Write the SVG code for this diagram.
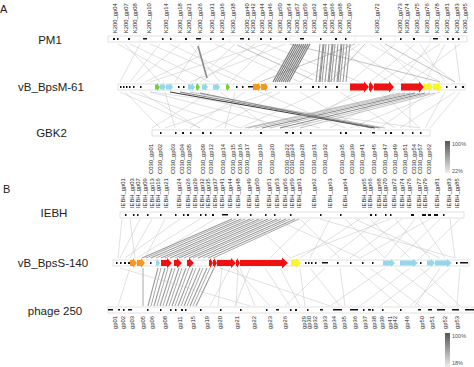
<svg xmlns="http://www.w3.org/2000/svg" width="474" height="367" viewBox="0 0 474 367">
<style>
text{font-family:"Liberation Sans",Arial,sans-serif;fill:#222}
.nm{font-size:11.5px;text-anchor:middle}
.pn{font-size:11px}
.gl{font-size:5.8px;fill:#444}
.pc{font-size:5.5px;fill:#555}
.trk{fill:#fff;stroke:#ccc;stroke-width:.6}
.mk{fill:#111}
.lt{stroke:#c2c2c2;stroke-width:.5;fill:none}
.md{stroke:#9a9a9a;stroke-width:.6;fill:none}
.dk{stroke:#6a6a6a;stroke-width:.8;fill:none}
.dk2{stroke:#3c3c3c;stroke-width:1.1;fill:none}
.bd{stroke:#808080;stroke-width:1.2;fill:none}
.bd2{stroke:#9c9c9c;stroke-width:1.1;fill:none}
.bb{stroke:#a8a8a8;stroke-width:1;fill:none}
.red{fill:#ee1111}
.org{fill:#f39a1e}
.yel{fill:#f6f62a}
.cyn{fill:#92d7ea}
.grn{fill:#6fd33a}
</style>
<defs>
<linearGradient id="lg" x1="0" y1="0" x2="0" y2="1">
<stop offset="0" stop-color="#555"/>
<stop offset="1" stop-color="#eee"/>
</linearGradient>
</defs>
<rect width="474" height="367" fill="#fff"/>

<g id="connectors">
<path class="lt" d="M125,44L160,82M130,44L210,82M140,44L120,82M150,44L240,82M160,44L130,82M170,44L250,82M180,44L135,82M190,44L220,82M200,44L175,82M215,44L300,82M225,44L145,82M235,44L195,82M245,44L330,82M255,44L200,82M265,44L360,82M270,44L230,82M285,44L190,82M310,44L250,82M330,44L390,82M345,44L405,82M360,44L300,82M370,44L440,82M380,44L420,82M395,44L350,82M405,44L455,82M415,44L370,82M430,44L400,82M445,44L425,82M455,44L460,82M460,44L410,82M440,44L380,82M420,44L445,82M118,44L185,82M265,44L150,82"/>
<path class="md" d="M237,45L313,80M365,44L330,82M385,44L455,82M355,44L260,82M290,44L440,82"/>
<path d="M198,46L207,78" stroke="#888" stroke-width="1.6"/>
<path class="bd" d="M294,44L273,82M296,44L275,82M298,44L277,82M300,44L279,82M302,44L281,82M304,44L283,82M306,44L285,82M308,44L287,82M310,44L289,82"/>
<path class="bd2" d="M320,44L316,82M323,44L319,82M326,44L322,82M329,44L325,82M332,44L328,82M335,44L331,82M338,44L334,82M341,44L337,82M344,44L340,82M347,44L343,82M350,44L346,82"/>
<path class="dk" d="M324,44L320,82M333,44L329,82M342,44L338,82"/>

<path class="lt" d="M125,92L160,128M140,92L200,128M150,92L290,128M165,92L175,128M180,92L320,128M210,92L152,128M220,92L270,128M245,92L190,128M260,92L345,128M280,92L215,128M300,92L360,128M320,92L240,128M340,92L395,128M355,92L300,128M380,92L420,128M395,92L330,128M410,92L410,128M430,92L380,128M445,92L425,128M455,92L400,128M460,92L430,128M235,92L225,128M120,92L200,128M130,92L240,128M272,92L165,128M365,92L280,128M440,92L350,128M150,92L420,128"/>
<path class="dk2" d="M170,92L375,128"/>
<path class="dk" d="M180,92L380,128M200,93L372,128M415,93L262,128M425,93L280,128"/>
<path class="md" d="M190,92L385,128M410,93L255,128M420,93L270,128M430,93L290,128M405,93L248,128M435,93L300,128M400,93L245,128"/>

<path class="lt" d="M122,219L118,258M130,219L135,258M140,219L120,258M152,219L130,258M165,219L145,258M180,219L125,258M200,219L137,258M215,219L150,258M310,219L270,258M330,219L310,258M345,219L385,258M360,219L300,258M370,219L410,258M380,219L330,258M395,219L430,258M402,219L350,258M420,219L445,258M430,219L360,258M440,219L400,258M450,219L455,258M460,219L420,258M300,219L340,258M275,219L360,258M250,219L290,258M390,219L290,258M320,219L455,258M415,219L385,258M355,219L440,258"/>
<path class="bd2" d="M232,219L142,258M241,219L151,258M250,219L161,258M259,219L170,258M268,219L179,258M277,219L189,258M286,219L198,258M295,219L208,258"/>
<path class="bb" d="M236,219L146,258M245,219L156,258M254,219L165,258M263,219L175,258M272,219L184,258M281,219L193,258M290,219L203,258M299,219L213,258"/>

<path d="M143,268L143,306" stroke="#aaa" stroke-width="1"/>
<path class="bd2" d="M158,268L148,306M165,268L154,306M172,268L160,306M179,268L166,306M186,268L172,306M193,268L178,306M200,268L184,306M207,268L190,306M214,268L196,306"/>
<path class="bb" d="M161,268L151,306M168,268L157,306M175,268L163,306M182,268L169,306M189,268L175,306M196,268L181,306M203,268L187,306M210,268L193,306"/>
<path class="lt" d="M130,268L118,306M230,268L210,306M240,268L255,306M250,268L235,306M265,268L290,306M280,268L300,306M300,268L305,306M310,268L340,306M325,268L285,306M340,268L345,306M355,268L400,306M370,268L420,306M385,268L330,306M395,268L445,306M410,268L360,306M420,268L460,306M430,268L380,306M440,268L415,306M450,268L410,306M460,268L457,306M120,268L250,306M235,268L270,306M220,268L330,306M222,268L218,306M238,268L236,306"/>
</g>

<g id="labels">
<text class="pn" x="0" y="13">A</text>
<text class="pn" x="3" y="193">B</text>
</g>

<g id="PM1">
<text class="nm" x="50" y="44">PM1</text>
<rect class="trk" x="108" y="36" width="359" height="6"/>
<path d="M140,36v6M175,36v6M230,36v6M258,36v6M290,36v6M355,36v6M395,36v6M430,36v6" stroke="#ddd" stroke-width=".5"/>
<path class="mk" d="M113,38h2v2h-2zM117,38h1.5v2h-1.5zM128,38h2v2h-2zM143,38h4v1.5h-4zM162,38h1.5v2h-1.5zM170,38h1.5v2h-1.5zM185,38h2v2h-2zM196,38h5v1.5h-5zM210,38h1.5v2h-1.5zM222,38h2v2h-2zM240,38h4v1.5h-4zM248,38h1.5v2h-1.5zM260,38h2v2h-2zM270,38h1.5v2h-1.5zM285,38h2v2h-2zM300,38h4v1.5h-4zM320,38h1.5v2h-1.5zM335,38h2v2h-2zM345,38h1.5v2h-1.5zM380,38h1.5v2h-1.5zM400,38h1.5v2h-1.5zM413,38h2v2h-2zM433,38h5v1.5h-5zM447,38h1.5v2h-1.5zM452,38h2v2h-2zM458,38h1.5v2h-1.5z"/>
<g class="gl">
<text transform="translate(117,33) rotate(-90)">K200_gp04</text>
<text transform="translate(128,33) rotate(-90)">K200_gp07</text>
<text transform="translate(137,33) rotate(-90)">K200_gp08</text>
<text transform="translate(151,33) rotate(-90)">K200_gp10</text>
<text transform="translate(168,33) rotate(-90)">K200_gp14</text>
<text transform="translate(182,33) rotate(-90)">K200_gp18</text>
<text transform="translate(191,33) rotate(-90)">K200_gp21</text>
<text transform="translate(202,33) rotate(-90)">K200_gp26</text>
<text transform="translate(214,33) rotate(-90)">K200_gp31</text>
<text transform="translate(224,33) rotate(-90)">K200_gp36</text>
<text transform="translate(235,33) rotate(-90)">K200_gp38</text>
<text transform="translate(249,33) rotate(-90)">K200_gp40</text>
<text transform="translate(255,33) rotate(-90)">K200_gp42</text>
<text transform="translate(264,33) rotate(-90)">K200_gp44</text>
<text transform="translate(272,33) rotate(-90)">K200_gp46</text>
<text transform="translate(282,33) rotate(-90)">K200_gp50</text>
<text transform="translate(291,33) rotate(-90)">K200_gp54</text>
<text transform="translate(299,33) rotate(-90)">K200_gp57</text>
<text transform="translate(307,33) rotate(-90)">K200_gp59</text>
<text transform="translate(316,33) rotate(-90)">K200_gp62</text>
<text transform="translate(327,33) rotate(-90)">K200_gp64</text>
<text transform="translate(334,33) rotate(-90)">K200_gp66</text>
<text transform="translate(342,33) rotate(-90)">K200_gp68</text>
<text transform="translate(351,33) rotate(-90)">K200_gp70</text>
<text transform="translate(379,33) rotate(-90)">K200_gp72</text>
<text transform="translate(402,33) rotate(-90)">K200_gp73</text>
<text transform="translate(409,33) rotate(-90)">K200_gp74</text>
<text transform="translate(419,33) rotate(-90)">K200_gp75</text>
<text transform="translate(429,33) rotate(-90)">K200_gp76</text>
<text transform="translate(439,33) rotate(-90)">K200_gp78</text>
<text transform="translate(449,33) rotate(-90)">K200_gp81</text>
<text transform="translate(459,33) rotate(-90)">K200_gp83</text>
<text transform="translate(467,33) rotate(-90)">K200_gp85</text>
</g>
</g>

<g id="vB_BpsM-61">
<text class="nm" x="51" y="91">vB_BpsM-61</text>
<rect class="trk" x="118" y="84" width="347" height="6"/>
<path class="mk" d="M120,86h1.5v2h-1.5zM123,86h1.5v2h-1.5zM126,86h1.5v2h-1.5zM129,86h1.5v2h-1.5zM133,86h1.5v2h-1.5zM140,86h1.5v2h-1.5zM178,86h1.5v2h-1.5zM183,86h1.5v2h-1.5zM236,86h1.5v2h-1.5zM242,86h1.5v2h-1.5zM248,86h5v1.5h-5zM275,86h1.5v2h-1.5zM285,86h1.5v2h-1.5zM300,86h1.5v2h-1.5zM312,86h2v2h-2zM318,86h1.5v2h-1.5zM325,86h1.5v2h-1.5zM336,86h2v2h-2zM446,86h1.5v2h-1.5zM455,86h1.5v2h-1.5zM462,86h2v2h-2z"/>
<polygon class="grn" points="155,84.5 157,84.5 157,83 160,87 157,91 157,89.5 155,89.5"/>
<polygon class="cyn" points="160,84.5 163,84.5 163,83 166,87 163,91 163,89.5 160,89.5"/>
<polygon class="cyn" points="166,84.5 170,84.5 170,83 173,87 170,91 170,89.5 166,89.5"/>
<polygon class="cyn" points="188,84.5 192,84.5 192,83 195,87 192,91 192,89.5 188,89.5"/>
<polygon class="grn" points="196,84.5 197,84.5 197,83 200,87 197,91 197,89.5 196,89.5"/>
<polygon class="cyn" points="202,84.5 205,84.5 205,83 208,87 205,91 205,89.5 202,89.5"/>
<polygon class="cyn" points="213,84.5 217,84.5 217,83 220,87 217,91 217,89.5 213,89.5"/>
<polygon class="grn" points="226,84.5 227,84.5 227,83 230,87 227,91 227,89.5 226,89.5"/>
<polygon class="org" points="253,84 258,84 258,82.5 261,87 258,91.5 258,90 253,90"/>
<polygon class="org" points="261,84 265,84 265,82.5 268,87 265,91.5 265,90 261,90"/>
<polygon class="red" points="350,83.5 364,83.5 364,81.5 369,87 364,92.5 364,90.5 350,90.5"/>
<polygon class="red" points="369,83.5 370,83.5 370,81.5 374,87 370,92.5 370,90.5 369,90.5"/>
<polygon class="red" points="374,83.5 389,83.5 389,81.5 394,87 389,92.5 389,90.5 374,90.5"/>
<polygon class="red" points="401,83.5 419,83.5 419,81.5 424,87 419,92.5 419,90.5 401,90.5"/>
<polygon class="yel" points="424,84 429,84 429,82 433,87 429,92 429,90 424,90"/>
<polygon class="yel" points="433,84 438,84 438,82 442,87 438,92 438,90 433,90"/>
</g>

<g id="GBK2">
<text class="nm" x="51.5" y="137">GBK2</text>
<rect class="trk" x="152" y="130" width="278" height="6"/>
<path class="mk" d="M160,132h1.5v2h-1.5zM175,132h1.5v2h-1.5zM182,132h2v2h-2zM190,132h1.5v2h-1.5zM202,132h2v2h-2zM210,132h1.5v2h-1.5zM230,132h1.5v2h-1.5zM240,132h1.5v2h-1.5zM260,132h2v2h-2zM285,132h3v1.5h-3zM292,132h2v2h-2zM300,132h1.5v2h-1.5zM310,132h1.5v2h-1.5zM340,132h1.5v2h-1.5zM345,132h2v2h-2zM360,132h1.5v2h-1.5zM372,132h3v1.5h-3zM385,132h1.5v2h-1.5zM390,132h2v2h-2zM402,132h1.5v2h-1.5zM412,132h1.5v2h-1.5zM420,132h1.5v2h-1.5z"/>
<g class="gl">
<text transform="translate(153,174) rotate(-90)">C030_gp01</text>
<text transform="translate(162,174) rotate(-90)">C030_gp02</text>
<text transform="translate(175,174) rotate(-90)">C030_gp03</text>
<text transform="translate(184,174) rotate(-90)">C030_gp04</text>
<text transform="translate(191,174) rotate(-90)">C030_gp05</text>
<text transform="translate(205,174) rotate(-90)">C030_gp09</text>
<text transform="translate(213,174) rotate(-90)">C030_gp12</text>
<text transform="translate(225,174) rotate(-90)">C030_gp14</text>
<text transform="translate(235,174) rotate(-90)">C030_gp15</text>
<text transform="translate(242,174) rotate(-90)">C030_gp16</text>
<text transform="translate(249,174) rotate(-90)">C030_gp17</text>
<text transform="translate(262,174) rotate(-90)">C030_gp19</text>
<text transform="translate(274,174) rotate(-90)">C030_gp20</text>
<text transform="translate(289,174) rotate(-90)">C030_gp22</text>
<text transform="translate(294,174) rotate(-90)">C030_gp24</text>
<text transform="translate(304,174) rotate(-90)">C030_gp28</text>
<text transform="translate(316,174) rotate(-90)">C030_gp31</text>
<text transform="translate(327,174) rotate(-90)">C030_gp32</text>
<text transform="translate(344,174) rotate(-90)">C030_gp35</text>
<text transform="translate(354,174) rotate(-90)">C030_gp39</text>
<text transform="translate(364,174) rotate(-90)">C030_gp41</text>
<text transform="translate(376,174) rotate(-90)">C030_gp45</text>
<text transform="translate(387,174) rotate(-90)">C030_gp47</text>
<text transform="translate(397,174) rotate(-90)">C030_gp49</text>
<text transform="translate(407,174) rotate(-90)">C030_gp51</text>
<text transform="translate(416,174) rotate(-90)">C030_gp54</text>
<text transform="translate(422,174) rotate(-90)">C030_gp57</text>
<text transform="translate(431,174) rotate(-90)">C030_gp62</text>
</g>
</g>

<g id="legendA">
<rect x="445" y="141" width="5" height="32" fill="url(#lg)"/>
<text class="pc" x="452" y="146">100%</text>
<text class="pc" x="452" y="173">22%</text>
</g>

<g id="IEBH">
<text class="nm" x="54" y="217">IEBH</text>
<rect class="trk" x="120" y="212" width="344" height="6"/>
<path class="mk" d="M125,214h1.5v2h-1.5zM133,214h1.5v2h-1.5zM137,214h1.5v2h-1.5zM147,214h1.5v2h-1.5zM160,214h1.5v2h-1.5zM175,214h1.5v2h-1.5zM183,214h1.5v2h-1.5zM187,214h2v2h-2zM200,214h1.5v2h-1.5zM205,214h1.5v2h-1.5zM212,214h2v2h-2zM222,214h6v1.5h-6zM237,214h1.5v2h-1.5zM250,214h1.5v2h-1.5zM265,214h1.5v2h-1.5zM274,214h1.5v2h-1.5zM290,214h1.5v2h-1.5zM320,214h1.5v2h-1.5zM340,214h1.5v2h-1.5zM370,214h2v2h-2zM375,214h1.5v2h-1.5zM385,214h1.5v2h-1.5zM390,214h1.5v2h-1.5zM411,214h3v2h-3zM422,214h4v2h-4zM428,214h3v2h-3zM434,214h4v2h-4zM443,214h1.5v2h-1.5z"/>
<g class="gl">
<text transform="translate(125,208) rotate(-90)">IEBH_gp01</text>
<text transform="translate(134,208) rotate(-90)">IEBH_gp03</text>
<text transform="translate(140,208) rotate(-90)">IEBH_gp07</text>
<text transform="translate(147,208) rotate(-90)">IEBH_gp09</text>
<text transform="translate(154,208) rotate(-90)">IEBH_gp13</text>
<text transform="translate(160,208) rotate(-90)">IEBH_gp16</text>
<text transform="translate(168,208) rotate(-90)">IEBH_gp21</text>
<text transform="translate(181,208) rotate(-90)">IEBH_gp24</text>
<text transform="translate(190,208) rotate(-90)">IEBH_gp26</text>
<text transform="translate(197,208) rotate(-90)">IEBH_gp29</text>
<text transform="translate(204,208) rotate(-90)">IEBH_gp32</text>
<text transform="translate(210,208) rotate(-90)">IEBH_gp35</text>
<text transform="translate(217,208) rotate(-90)">IEBH_gp37</text>
<text transform="translate(224,208) rotate(-90)">IEBH_gp41</text>
<text transform="translate(232,208) rotate(-90)">IEBH_gp44</text>
<text transform="translate(240,208) rotate(-90)">IEBH_gp48</text>
<text transform="translate(251,208) rotate(-90)">IEBH_gp49</text>
<text transform="translate(259,208) rotate(-90)">IEBH_gp50</text>
<text transform="translate(271,208) rotate(-90)">IEBH_gp51</text>
<text transform="translate(279,208) rotate(-90)">IEBH_gp53</text>
<text transform="translate(287,208) rotate(-90)">IEBH_gp56</text>
<text transform="translate(294,208) rotate(-90)">IEBH_gp59</text>
<text transform="translate(301,208) rotate(-90)">IEBH_gp61</text>
<text transform="translate(316,208) rotate(-90)">IEBH_gp62</text>
<text transform="translate(332,208) rotate(-90)">IEBH_gp63</text>
<text transform="translate(347,208) rotate(-90)">IEBH_gp64</text>
<text transform="translate(366,208) rotate(-90)">IEBH_gp65</text>
<text transform="translate(372,208) rotate(-90)">IEBH_gp66</text>
<text transform="translate(381,208) rotate(-90)">IEBH_gp68</text>
<text transform="translate(387,208) rotate(-90)">IEBH_gp70</text>
<text transform="translate(396,208) rotate(-90)">IEBH_gp72</text>
<text transform="translate(404,208) rotate(-90)">IEBH_gp74</text>
<text transform="translate(411,208) rotate(-90)">IEBH_gp76</text>
<text transform="translate(421,208) rotate(-90)">IEBH_gp77</text>
<text transform="translate(427,208) rotate(-90)">IEBH_gp79</text>
<text transform="translate(439,208) rotate(-90)">IEBH_gp81</text>
<text transform="translate(451,208) rotate(-90)">IEBH_gp83</text>
<text transform="translate(459,208) rotate(-90)">IEBH_gp85</text>
</g>
</g>

<g id="vB_BpsS-140">
<text class="nm" x="53" y="267">vB_BpsS-140</text>
<rect class="trk" x="113" y="260" width="356" height="6"/>
<path class="mk" d="M116,262h1.5v2h-1.5zM120,262h1.5v2h-1.5zM124,262h2v2h-2zM128,262h2v2h-2zM150,262h1.5v2h-1.5zM305,262h1.5v2h-1.5zM308,262h1.5v2h-1.5zM311,262h1.5v2h-1.5zM315,262h1.5v2h-1.5zM322,262h6v1.5h-6zM337,262h1.5v2h-1.5zM350,262h1.5v2h-1.5zM362,262h1.5v2h-1.5zM372,262h1.5v2h-1.5zM420,262h1.5v2h-1.5zM456,262h1.5v2h-1.5zM460,262h8v1.5h-8z"/>
<polygon class="org" points="130,260 133,260 133,258 137,263 133,268 133,266 130,266"/>
<polygon class="org" points="137,260 141,260 141,258 145,263 141,268 141,266 137,266"/>
<polygon class="cyn" points="156,260.5 157,260.5 157,259 160,263 157,267 157,265.5 156,265.5"/>
<polygon class="red" points="161,260 167,260 167,258 172,263 167,268 167,266 161,266"/>
<polygon class="red" points="174,260 177,260 177,258 182,263 177,268 177,266 174,266"/>
<polygon class="red" points="187,260 189,260 189,258 194,263 189,268 189,266 187,266"/>
<polygon class="red" points="209,260 210,260 210,258 213,263 210,268 210,266 209,266"/>
<polygon class="red" points="213,260 214,260 214,258 217,263 214,268 214,266 213,266"/>
<polygon class="red" points="217,260 231,260 231,258 236,263 231,268 231,266 217,266"/>
<polygon class="red" points="236,260 237,260 237,258 240,263 237,268 237,266 236,266"/>
<polygon class="red" points="240,260 282,260 282,257.5 288,263 282,268.5 282,266 240,266"/>
<polygon class="yel" points="291,260 296,260 296,258 301,263 296,268 296,266 291,266"/>
<polygon class="cyn" points="383,260.5 391,260.5 391,259 395,263 391,267 391,265.5 383,265.5"/>
<polygon class="cyn" points="400,260.5 413,260.5 413,259 418,263 413,267 413,265.5 400,265.5"/>
<polygon class="cyn" points="427,260.5 431,260.5 431,259 435,263 431,267 431,265.5 427,265.5"/>
<polygon class="cyn" points="435,260.5 447,260.5 447,259 452,263 447,267 447,265.5 435,265.5"/>
</g>

<g id="phage250">
<text class="nm" x="55" y="315">phage 250</text>
<rect class="trk" x="108" y="307" width="366" height="6"/>
<path class="mk" d="M108,309h5v1.5h-5zM118,309h2v1.5h-2zM123,309h1.5v2h-1.5zM128,309h4v1.5h-4zM147,309h1.5v2h-1.5zM160,309h1.5v2h-1.5zM170,309h1.5v2h-1.5zM175,309h1.5v2h-1.5zM181,309h2v2h-2zM185,309h1.5v2h-1.5zM200,309h1.5v2h-1.5zM220,309h1.5v2h-1.5zM240,309h1.5v2h-1.5zM266,309h1.5v2h-1.5zM276,309h3v1.5h-3zM290,309h1.5v2h-1.5zM295,309h2v2h-2zM307,309h1.5v2h-1.5zM320,309h3v1.5h-3zM333,309h9v1.5h-9zM350,309h8v1.5h-8zM363,309h1.5v2h-1.5zM368,309h3v1.5h-3zM372,309h1.5v2h-1.5zM382,309h1.5v2h-1.5zM400,309h1.5v2h-1.5zM418,309h3v1.5h-3zM428,309h4v1.5h-4zM437,309h8v1.5h-8zM452,309h7v1.5h-7zM465,309h9v1.5h-9z"/>
<g class="gl">
<text transform="translate(117,329) rotate(-90)">gp01</text>
<text transform="translate(125,329) rotate(-90)">gp02</text>
<text transform="translate(134,329) rotate(-90)">gp03</text>
<text transform="translate(145,329) rotate(-90)">gp05</text>
<text transform="translate(154,329) rotate(-90)">gp06</text>
<text transform="translate(167,329) rotate(-90)">gp08</text>
<text transform="translate(182,329) rotate(-90)">gp11</text>
<text transform="translate(195,329) rotate(-90)">gp15</text>
<text transform="translate(209,329) rotate(-90)">gp19</text>
<text transform="translate(222,329) rotate(-90)">gp20</text>
<text transform="translate(239,329) rotate(-90)">gp21</text>
<text transform="translate(256,329) rotate(-90)">gp22</text>
<text transform="translate(272,329) rotate(-90)">gp23</text>
<text transform="translate(287,329) rotate(-90)">gp26</text>
<text transform="translate(306,329) rotate(-90)">gp29</text>
<text transform="translate(311,329) rotate(-90)">gp30</text>
<text transform="translate(317,329) rotate(-90)">gp32</text>
<text transform="translate(327,329) rotate(-90)">gp33</text>
<text transform="translate(336,329) rotate(-90)">gp34</text>
<text transform="translate(346,329) rotate(-90)">gp35</text>
<text transform="translate(357,329) rotate(-90)">gp36</text>
<text transform="translate(367,329) rotate(-90)">gp37</text>
<text transform="translate(376,329) rotate(-90)">gp38</text>
<text transform="translate(384,329) rotate(-90)">gp39</text>
<text transform="translate(392,329) rotate(-90)">gp41</text>
<text transform="translate(397,329) rotate(-90)">gp42</text>
<text transform="translate(409,329) rotate(-90)">gp46</text>
<text transform="translate(424,329) rotate(-90)">gp50</text>
<text transform="translate(434,329) rotate(-90)">gp51</text>
<text transform="translate(447,329) rotate(-90)">gp52</text>
<text transform="translate(459,329) rotate(-90)">gp53</text>
</g>
</g>

<g id="legendB">
<rect x="445" y="333" width="5" height="34" fill="url(#lg)"/>
<text class="pc" x="452" y="338">100%</text>
<text class="pc" x="452" y="365">18%</text>
</g>
</svg>
